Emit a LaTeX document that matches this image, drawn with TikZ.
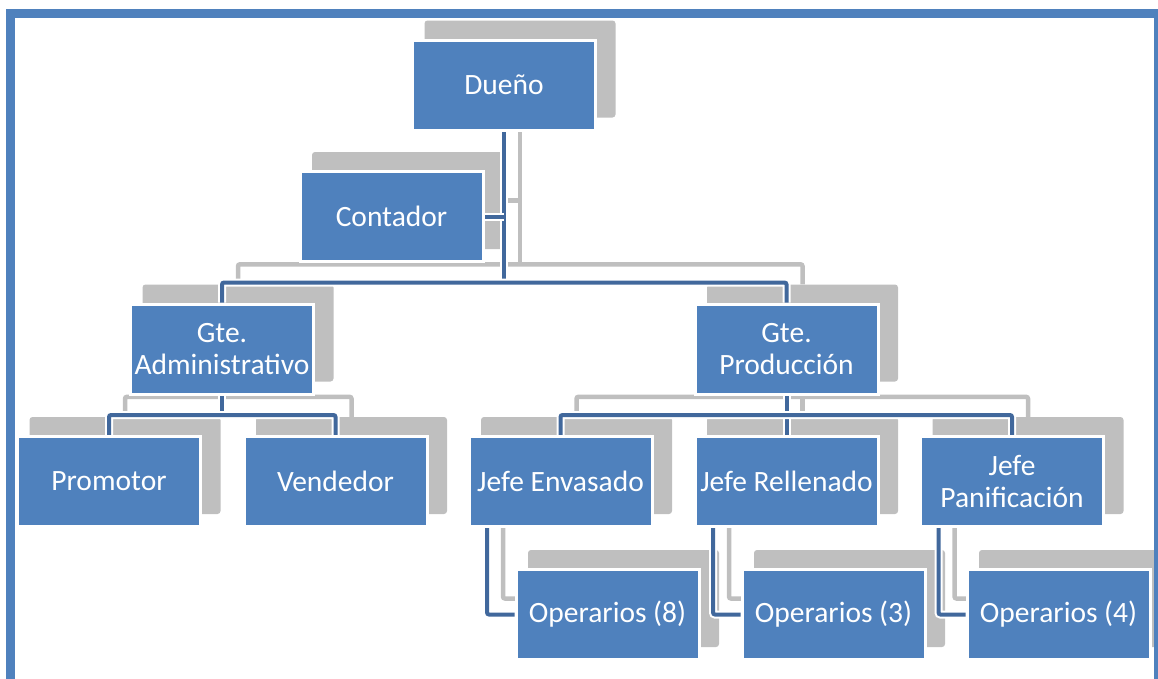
\documentclass[tikz,border=0pt]{standalone}
\usepackage{fontspec}
\setmainfont{Carlito}
\usetikzlibrary{backgrounds}

\definecolor{boxblue}{HTML}{4F81BD}
\definecolor{linkblue}{HTML}{41689C}
\definecolor{shadowgray}{HTML}{BFBFBF}

\tikzset{
  box/.style={rectangle, fill=boxblue, draw=white, line width=3pt, text=white,
    minimum width=183pt, minimum height=90pt, inner sep=0pt, align=center,
    font=\fontsize{29.5}{32}\selectfont},
  shadowbox/.style={rectangle, fill=shadowgray, rounded corners=3pt,
    minimum width=191pt, minimum height=97pt, inner sep=0pt},
  link/.style={draw=linkblue, line width=4pt, rounded corners=2pt,
    preaction={draw=white, line width=8pt}},
  shadowlink/.style={draw=shadowgray, line width=4.5pt, rounded corners=2pt},
  frame/.style={draw=boxblue, line width=9pt}
}

\begin{document}
\begin{tikzpicture}[x=1pt, y=-1pt]
    \path[use as bounding box] (0,0) rectangle (1158,678);

    % Frame
    \begin{scope}
      \clip (0,0) rectangle (1158,678);
      \draw[frame] (10.5,13.5) rectangle (1158.5,700);
    \end{scope}

    % Nodes
    \node[box] (dueno) at (504,85) {Dueño};
    \node[box] (contador) at (391.5,216.5) {Contador};
    \node[box] (admin) at (222,349) {Gte.\\Administrativo};
    \node[box] (prod) at (786.5,349) {Gte.\\Producción};
    \node[box] (promotor) at (109,481.5) {Promotor};
    \node[box] (vendedor) at (335.5,481.5) {Vendedor};
    \node[box] (envasado) at (560.5,481.5) {Jefe Envasado};
    \node[box] (rellenado) at (786.5,481.5) {Jefe Rellenado};
    \node[box] (panif) at (1012,481.5) {Jefe\\Panificación};
    \node[box] (op8) at (607.5,614.5) {Operarios (8)};
    \node[box] (op3) at (833.5,614.5) {Operarios (3)};
    \node[box] (op4) at (1058.5,614.5) {Operarios (4)};

    \begin{scope}[on background layer]
      % Shadows
      \foreach \n in {dueno,contador,admin,prod,promotor,vendedor,envasado,rellenado,panif,op8,op3,op4}
        \node[shadowbox] (\n-s) at ([shift={(16,-16)}]\n) {};

      % Connections (shadow copy first)
      \foreach \s/\st in {-s/shadowlink,/link} {
        \path ([yshift=20pt]admin\s.north) coordinate (topy\s);
        \path ([yshift=20pt]promotor\s.north) coordinate (rowy\s);
        \draw[\st] (dueno\s.south) -- (dueno\s.south |- topy\s);
        \draw[\st] (contador\s.east) -- (contador\s.east -| dueno\s.south);
        \draw[\st] (admin\s.north) |- (dueno\s.south |- topy\s) -| (prod\s.north);
        \draw[\st] (admin\s.south) -- (admin\s.south |- rowy\s);
        \draw[\st] (promotor\s.north) |- (admin\s.south |- rowy\s) -| (vendedor\s.north);
        \draw[\st] (prod\s.south) -- (rellenado\s.north);
        \draw[\st] (envasado\s.north) |- (prod\s.south |- rowy\s) -| (panif\s.north);
        \draw[\st] ([xshift=-73.5pt]envasado\s.south) |- (op8\s.west);
        \draw[\st] ([xshift=-73.5pt]rellenado\s.south) |- (op3\s.west);
        \draw[\st] ([xshift=-73.5pt]panif\s.south) |- (op4\s.west);
      }
    \end{scope}
  \end{tikzpicture}
\end{document}
